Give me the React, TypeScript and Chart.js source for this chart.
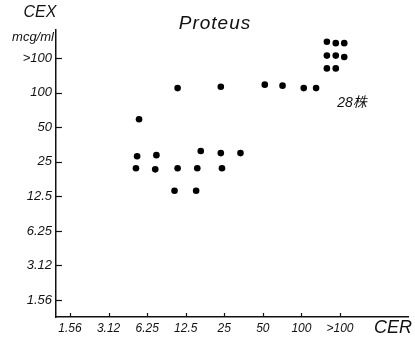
import React, { useEffect, useRef } from "react";
import { Chart, registerables } from "chart.js";

Chart.register(...registerables);

// Category labels (index 0..7 on each axis)
const xLabels = ["1.56", "3.12", "6.25", "12.5", "25", "50", "100", ">100"];
const yLabels = ["1.56", "3.12", "6.25", "12.5", "25", "50", "100", ">100"];

// Each strain: CER category position (x) and CEX category position (y)
const xValues = [
  6.66, 6.89, 7.11, 6.66, 6.89, 7.11, 6.66, 6.89,
  2.79, 3.91, 5.05, 5.51, 6.06, 6.38,
  1.79,
  1.74, 2.24, 3.39, 3.91, 4.42,
  1.71, 2.21, 2.79, 3.3, 3.94,
  2.71, 3.27,
];
const yValues = [
  7.47, 7.43, 7.43, 7.07, 7.07, 7.03, 6.7, 6.7,
  6.13, 6.17, 6.23, 6.2, 6.13, 6.13,
  5.23,
  4.16, 4.19, 4.31, 4.25, 4.25,
  3.81, 3.78, 3.81, 3.81, 3.81,
  3.16, 3.16,
];

const chartTitle = "Proteus";
const xTitle = "CER";
const yTitleLines = ["CEX", "mcg/ml"];
const countNote = "28株";

const FONT = "'Liberation Sans', Arial, sans-serif";
const INK = "#111";

const decorPlugin = {
  id: "decor",
  afterDraw(chart: any) {
    const { ctx, chartArea, scales } = chart;
    const xs = scales.x;
    const ys = scales.y;
    ctx.save();
    ctx.strokeStyle = INK;
    ctx.lineWidth = 1.2;
    ys.ticks.forEach((t: any) => {
      const py = Math.round(ys.getPixelForValue(t.value)) + 0.5;
      ctx.beginPath();
      ctx.moveTo(chartArea.left, py);
      ctx.lineTo(chartArea.left + 6, py);
      ctx.stroke();
    });
    xs.ticks.forEach((t: any) => {
      const px = Math.round(xs.getPixelForValue(t.value)) + 0.5;
      ctx.beginPath();
      ctx.moveTo(px, chartArea.bottom);
      ctx.lineTo(px, chartArea.bottom - 4);
      ctx.stroke();
    });

    ctx.fillStyle = INK;
    ctx.textBaseline = "middle";
    ctx.textAlign = "center";
    ctx.font = `italic 19px ${FONT}`;
    (ctx as any).letterSpacing = "1px";
    ctx.fillText(chartTitle, 215, chartArea.top - 6);
    (ctx as any).letterSpacing = "0px";

    ctx.font = `italic 16px ${FONT}`;
    ctx.fillText(yTitleLines[0], chartArea.left - 16, chartArea.top - 17);
    ctx.font = `italic 13px ${FONT}`;
    ctx.fillText(yTitleLines[1], chartArea.left - 23, chartArea.top + 7);

    ctx.font = `italic 18px ${FONT}`;
    ctx.textAlign = "right";
    ctx.fillText(xTitle, chartArea.right + 4, chartArea.bottom + 11);

    ctx.textAlign = "center";
    ctx.font = `italic 14px ${FONT}, 'Noto Sans CJK JP'`;
    ctx.fillText(countNote, 352, 103);
    ctx.restore();
  },
};

export default function App() {
  const ref = useRef<HTMLCanvasElement | null>(null);

  useEffect(() => {
    if (!ref.current) return;
    const points = xValues.map((x, i) => ({ x, y: yValues[i] }));
    const chart = new Chart(ref.current, {
      type: "scatter",
      data: {
        datasets: [
          {
            data: points,
            pointRadius: 3.3,
            pointBackgroundColor: "#000",
            pointBorderWidth: 0,
            pointHoverRadius: 3.3,
          },
        ],
      },
      options: {
        animation: false,
        responsive: false,
        layout: { padding: { top: 30, right: 7, left: 0, bottom: 0 } },
        plugins: {
          legend: { display: false },
          tooltip: { enabled: false },
          title: { display: false },
        },
        scales: {
          x: {
            type: "linear",
            min: -0.363,
            max: 8.763,
            afterBuildTicks: (s: any) => {
              s.ticks = xLabels.map((_, i) => ({ value: i }));
            },
            afterFit: (s: any) => {
              s.height = 26;
            },
            grid: { display: false, drawTicks: false },
            border: { display: true, color: INK, width: 1.5 },
            ticks: {
              autoSkip: false,
              maxRotation: 0,
              padding: 4,
              color: INK,
              font: { family: FONT, size: 12, style: "italic" },
              callback: (v: any) => xLabels[Math.round(Number(v))] ?? "",
            },
          },
          y: {
            type: "linear",
            min: -0.49,
            max: 7.81,
            afterBuildTicks: (s: any) => {
              s.ticks = yLabels.map((_, i) => ({ value: i }));
            },
            afterFit: (s: any) => {
              s.width = 56;
            },
            grid: { display: false, drawTicks: false },
            border: { display: true, color: INK, width: 1.5 },
            ticks: {
              autoSkip: false,
              padding: 4,
              color: INK,
              font: { family: FONT, size: 13, style: "italic" },
              callback: (v: any) => yLabels[Math.round(Number(v))] ?? "",
            },
          },
        },
      },
      plugins: [decorPlugin],
    });
    return () => chart.destroy();
  }, []);

  return (
    <div style={{ position: "absolute", left: 0, top: 0, width: 415, height: 343, background: "#fff" }}>
      <canvas ref={ref} width={415} height={343} style={{ display: "block" }} />
    </div>
  );
}
